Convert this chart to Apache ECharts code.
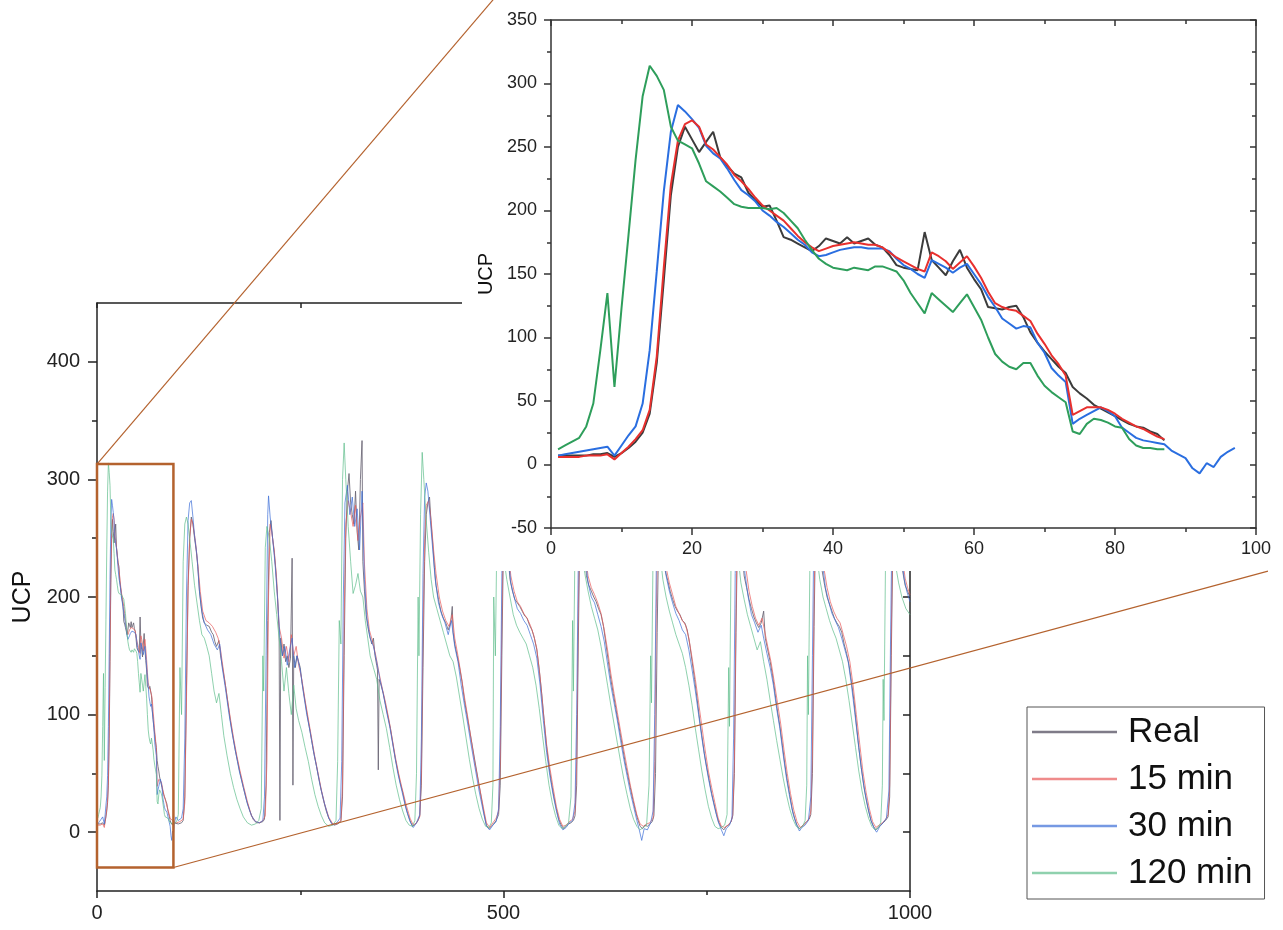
<!DOCTYPE html>
<html>
<head>
<meta charset="utf-8">
<title>UCP forecast</title>
<script src="https://cdn.jsdelivr.net/npm/echarts@6/dist/echarts.min.js"></script>
<style>
    html, body { margin: 0; padding: 0; background: #fff; }
    #chart { width: 1283px; height: 930px; }
</style>
</head>
<body>
<div id="chart"></div>
<script>
// series names
var names = ['Real', '15 min', '30 min', '120 min'];

// first cycle, one value per step (x = 1, 2, 3 ...) -- also the zoomed inset
var insetReal = [7,7,7,7,7,8,8,9,6,9, 13,18,25,40,80,145,212,250,266,256,
    246,254,262,242,235,229,226,214,208,203, 204,192,179,177,174,171,168,172,178,176,
    174,179,174,176,178,173,171,165,157,155, 154,153,183,161,155,149,160,169,155,146,
    138,124,123,122,124,125,116,104,96,89, 83,77,72,61,56,52,47,44,41,38,
    35,32,30,29,26,24,19];
var insetMin15 = [6,6,6,6,7,7,7,8,4,9, 14,20,27,43,85,155,220,255,268,271,
    266,252,248,242,236,228,223,217,210,204, 200,196,192,186,180,175,171,168,170,172,
    173,174,175,174,173,173,171,167,163,160, 157,154,152,167,164,160,154,159,164,156,
    147,136,127,124,122,121,117,113,103,95, 86,79,70,39,42,45,45,45,43,40,
    36,33,30,28,25,22,20];
var insetMin30 = [7,8,9,10,11,12,13,14,7,15, 23,30,48,90,152,215,262,283,278,272,
    265,251,245,241,233,224,216,212,207,200, 196,191,187,182,177,173,167,164,165,167,
    169,170,171,171,170,170,170,168,162,157, 154,150,147,161,158,155,151,155,158,150,
    142,132,124,115,111,107,109,108,96,88, 76,70,65,32,36,39,42,45,42,38,
    29,25,21,19,18,17,16,11,8,5, -3,-7,1,-2,6,10,13];
var insetMin120 = [12,15,18,21,30,48,90,135,61,123, 181,240,290,314,306,295,266,255,252,249,
    237,223,219,215,210,205,203,202,202,202, 201,202,198,192,186,177,169,162,158,155,
    154,153,155,154,153,156,156,154,152,145, 135,127,119,135,130,125,120,127,134,124,
    114,100,87,81,77,75,80,80,70,62, 57,53,49,26,24,32,36,35,33,30,
    29,20,15,13,13,12,12];

// rest of the full record, [x, UCP]
var realRest = [[88,16],[89,13],[90,10],[91,8],[92,7],[93,6],[94,8],[96,9],[100,7],[104,8],[106,10],[108,30],
    [110,120],[112,210],[114,250],[116,268],[118,262],[120,250],[122,240],[124,226],[126,205],[128,192],[130,182],
    [132,178],[135,176],[138,175],[141,170],[143,168],[145,162],[147,158],[150,163],[152,150],[155,138],[158,125],
    [161,110],[164,95],[167,82],[170,70],[173,60],[176,50],[180,38],[184,27],[188,18],[192,11],[196,8],[200,8],
    [204,9],[206,11],[208,40],[210,180],[212,255],[214,265],[216,250],[218,238],[220,222],[222,200],[224,170],
    [225,10],[226,165],[228,150],[230,160],[232,145],[234,150],[236,140],[238,148],[240,233],[241,40],[242,150],
    [244,140],[246,150],[248,145],[250,140],[252,128],[255,115],[258,102],[261,90],[264,78],[267,66],[270,56],
    [273,45],[276,35],[279,26],[282,18],[285,12],[288,8],[292,6],[296,7],[300,9],[302,30],[304,150],[306,250],
    [308,290],[310,305],[312,280],[314,270],[316,262],[318,290],[320,255],[322,240],[324,300],[326,333],[327,230],
    [329,205],[331,185],[333,175],[335,168],[338,160],[340,165],[342,150],[344,142],[345,138],[346,53],[347,130],
    [349,126],[352,118],[355,108],[358,98],[361,88],[364,75],[367,62],[370,52],[373,42],[376,34],[379,24],
    [382,16],[385,10],[388,5],[392,7],[395,10],[397,14],[399,40],[401,140],[403,230],[405,270],[407,280],
    [409,285],[411,262],[413,245],[415,225],[417,210],[420,198],[423,188],[426,182],[429,178],[432,172],
    [435,178],[437,192],[438,170],[440,160],[443,150],[446,140],[449,128],[452,112],[455,100],[458,88],
    [461,76],[464,64],[467,52],[470,40],[473,28],[476,16],[479,6],[482,3],[485,5],[488,7],[491,10],[494,15],
    [496,40],[498,150],[500,250],[502,275],[504,255],[506,232],[508,215],[511,205],[514,198],[517,195],
    [520,192],[523,188],[526,184],[529,182],[532,176],[535,172],[538,165],[541,155],[544,138],[547,118],
    [550,95],[553,73],[556,56],[559,42],[562,30],[565,20],[568,11],[571,6],[574,3],[577,5],[580,7],[583,8],
    [586,10],[588,14],[590,40],[592,160],[594,260],[596,285],[598,265],[600,235],[602,218],[605,210],[608,205],
    [611,200],[614,196],[617,190],[620,185],[623,175],[626,160],[629,145],[632,130],[635,118],[638,106],
    [641,94],[644,82],[647,70],[650,58],[653,48],[656,38],[659,28],[662,19],[665,11],[668,5],[671,3],[674,6],
    [677,5],[680,7],[683,9],[685,14],[687,50],[689,170],[691,260],[693,280],[695,262],[697,240],[699,222],
    [702,214],[705,205],[708,198],[711,192],[714,188],[717,185],[720,180],[723,178],[726,172],[729,160],
    [732,145],[735,130],[738,114],[741,97],[744,82],[747,67],[750,55],[753,44],[756,33],[759,24],[762,15],
    [765,8],[768,4],[771,2],[774,5],[777,6],[780,9],[782,14],[784,50],[786,170],[788,265],[790,282],[792,262],
    [794,235],[796,218],[799,208],[802,198],[805,190],[808,183],[811,178],[814,174],[817,178],[820,188],
    [822,165],[825,155],[828,145],[831,133],[834,118],[837,103],[840,90],[843,74],[846,58],[849,44],[852,32],
    [855,20],[858,12],[861,6],[864,3],[867,5],[870,7],[873,9],[876,11],[878,15],[880,50],[882,175],[884,265],
    [886,280],[888,260],[890,238],[892,222],[895,210],[898,200],[901,194],[904,188],[907,182],[910,178],
    [913,175],[916,170],[919,160],[922,152],[925,142],[928,128],[931,112],[934,92],[937,72],[940,55],[943,40],
    [946,28],[949,18],[952,10],[955,5],[958,2],[961,4],[964,6],[967,8],[970,10],[973,13],[975,30],[977,150],
    [979,250],[981,282],[983,275],[985,262],[987,248],[989,235],[991,222],[994,210],[997,205],[1000,200]];

var min15Rest = [[90,12],[94,9],[98,8],[102,9],[106,11],[108,25],[110,110],[112,205],[114,250],[116,266],
    [118,262],[121,248],[124,228],[127,205],[130,188],[134,180],[138,178],[142,175],[146,170],[149,165],
    [152,155],[156,135],[160,115],[164,97],[168,80],[172,65],[176,52],[180,40],[185,26],[190,14],[195,9],
    [200,8],[204,10],[207,14],[209,60],[211,200],[213,262],[215,255],[218,240],[221,215],[224,175],[227,165],
    [230,148],[233,158],[236,145],[239,168],[242,150],[245,158],[248,142],[252,130],[256,112],[260,96],
    [264,80],[268,64],[272,50],[276,36],[280,24],[285,13],[290,7],[295,7],[300,10],[302,40],[304,180],
    [306,262],[309,282],[312,272],[315,260],[318,278],[321,248],[324,268],[327,280],[329,228],[332,190],
    [335,172],[339,162],[343,150],[347,135],[351,122],[355,110],[359,96],[363,80],[367,64],[371,50],[375,38],
    [380,24],[385,12],[389,6],[393,8],[397,13],[399,50],[401,170],[403,250],[405,278],[408,282],[411,265],
    [414,240],[417,220],[421,200],[425,188],[429,180],[433,175],[437,185],[440,165],[444,150],[448,133],
    [452,115],[456,98],[460,80],[465,58],[470,40],[475,22],[479,8],[483,4],[487,8],[491,12],[494,18],
    [496,60],[498,180],[500,262],[503,268],[506,240],[509,218],[513,205],[517,196],[521,192],[525,186],
    [529,182],[533,176],[537,168],[541,156],[545,132],[549,102],[553,75],[557,55],[561,38],[565,22],[569,11],
    [573,5],[577,6],[581,9],[585,11],[588,18],[590,60],[592,190],[594,268],[597,272],[600,240],[604,218],
    [608,208],[612,202],[616,195],[620,186],[624,172],[628,155],[632,135],[636,118],[640,102],[644,86],
    [648,70],[652,55],[656,40],[660,27],[664,15],[668,7],[672,5],[676,7],[680,8],[684,12],[686,60],[688,190],
    [690,268],[693,276],[696,252],[700,225],[704,212],[708,202],[712,192],[716,186],[720,180],[724,176],
    [728,165],[732,148],[736,130],[740,110],[744,90],[748,70],[752,52],[756,38],[760,25],[764,12],[768,5],
    [772,4],[776,6],[780,9],[782,15],[784,60],[786,190],[788,270],[791,278],[794,252],[798,225],[802,205],
    [806,192],[810,182],[814,176],[818,182],[821,172],[825,158],[829,145],[833,128],[837,110],[841,92],
    [845,70],[849,50],[853,33],[857,19],[861,9],[865,4],[869,6],[873,9],[876,12],[878,18],[880,70],[882,200],
    [884,270],[887,278],[890,252],[894,225],[898,208],[902,196],[906,188],[910,182],[914,178],[918,168],
    [922,158],[926,145],[930,125],[934,100],[938,76],[942,52],[946,34],[950,20],[954,9],[958,4],[962,6],
    [966,8],[970,11],[973,15],[975,40],[977,170],[979,262],[982,280],[985,268],[988,250],[991,232],[994,216],
    [997,208],[1000,202]];

var min30Rest = [[100,10],[104,12],[106,20],[108,80],[110,200],[112,265],[114,280],[116,282],[118,268],
    [120,252],[123,235],[126,205],[129,188],[132,178],[136,172],[140,168],[144,160],[148,155],[151,160],
    [154,140],[158,122],[162,102],[166,85],[170,70],[175,52],[180,38],[185,24],[190,14],[195,9],[200,8],
    [204,10],[206,30],[208,150],[210,270],[211,286],[213,268],[216,250],[219,228],[222,200],[225,165],
    [228,150],[231,158],[234,142],[237,155],[240,165],[243,140],[246,150],[250,138],[254,118],[258,100],
    [262,86],[266,70],[270,56],[275,38],[280,24],[285,12],[290,6],[295,8],[299,12],[301,60],[303,200],
    [305,280],[308,295],[311,270],[314,285],[317,260],[320,275],[323,240],[326,290],[329,215],[332,182],
    [336,165],[340,158],[344,145],[348,130],[352,118],[356,103],[360,90],[365,70],[370,50],[375,35],[380,20],
    [385,9],[389,4],[393,8],[397,15],[399,80],[401,220],[403,285],[405,297],[407,290],[410,265],[413,240],
    [416,215],[420,195],[424,185],[428,178],[432,168],[436,180],[440,158],[444,145],[448,125],[452,108],
    [456,92],[460,75],[465,55],[470,35],[475,18],[479,5],[483,2],[487,6],[491,9],[494,20],[496,90],[498,220],
    [500,280],[503,270],[506,235],[509,212],[513,200],[517,190],[521,186],[525,180],[529,176],[533,168],
    [537,160],[541,148],[545,125],[549,95],[553,68],[557,48],[561,32],[565,18],[569,7],[573,2],[577,4],
    [581,8],[585,10],[588,25],[590,100],[592,230],[594,285],[597,270],[600,238],[604,212],[608,200],[612,195],
    [616,185],[620,175],[624,162],[628,143],[632,125],[636,110],[640,95],[644,78],[648,62],[652,48],[656,34],
    [660,22],[664,10],[667,2],[670,-7],[673,3],[677,2],[681,8],[684,18],[686,100],[688,230],[690,285],
    [693,270],[696,245],[700,218],[704,205],[708,195],[712,186],[716,180],[720,172],[724,168],[728,155],
    [732,138],[736,120],[740,100],[744,80],[748,62],[752,46],[756,32],[760,20],[764,9],[768,2],[771,-3],
    [774,3],[778,6],[781,12],[783,80],[785,220],[787,285],[790,275],[793,248],[797,220],[801,200],[805,185],
    [809,178],[813,170],[817,176],[820,165],[824,152],[828,140],[832,125],[836,105],[840,88],[844,66],
    [848,46],[852,30],[856,16],[860,7],[864,1],[867,4],[871,6],[875,10],[878,30],[880,150],[882,270],
    [885,290],[888,262],[892,230],[896,208],[900,196],[904,186],[908,180],[912,174],[916,165],[920,155],
    [924,145],[928,125],[932,102],[936,78],[940,55],[944,36],[948,22],[952,10],[956,3],[959,0],[963,5],
    [967,8],[971,12],[974,35],[976,160],[978,270],[981,292],[984,280],[987,255],[990,232],[993,215],
    [996,205],[1000,196]];

var min120Rest = [[90,8],[94,7],[98,9],[100,15],[102,140],[104,100],[106,230],[108,262],[110,268],[112,262],
    [114,250],[117,230],[120,210],[123,195],[126,180],[129,168],[132,165],[135,158],[138,150],[141,135],
    [144,120],[147,110],[150,118],[153,100],[156,82],[160,65],[164,50],[168,38],[172,28],[176,20],[180,13],
    [185,8],[190,6],[195,7],[199,10],[202,20],[204,150],[205,120],[207,242],[209,260],[212,250],[215,230],
    [218,205],[221,185],[224,165],[227,145],[230,120],[233,140],[236,118],[239,100],[242,125],[245,105],
    [248,95],[252,85],[256,72],[260,60],[264,45],[268,32],[272,22],[276,14],[280,8],[285,5],[290,6],[294,10],
    [296,60],[298,180],[300,160],[302,300],[304,331],[306,300],[309,260],[312,230],[315,203],[318,210],
    [321,220],[324,205],[327,200],[330,180],[333,165],[336,150],[340,140],[344,130],[348,112],[352,100],
    [356,88],[360,72],[364,55],[368,40],[372,28],[376,18],[380,10],[384,6],[388,5],[391,10],[393,50],
    [395,200],[396,150],[398,270],[400,323],[402,300],[405,265],[408,238],[411,215],[414,200],[418,190],
    [422,180],[426,170],[430,160],[434,150],[438,145],[442,132],[446,115],[450,98],[454,80],[458,62],
    [462,46],[466,32],[470,20],[474,11],[478,5],[482,4],[485,8],[487,40],[488,200],[490,150],[492,260],
    [494,285],[497,260],[500,235],[504,215],[508,200],[512,185],[516,176],[520,170],[524,165],[528,160],
    [532,150],[536,140],[540,125],[544,105],[548,82],[552,60],[556,40],[560,25],[564,14],[568,6],[572,3],
    [576,5],[580,8],[583,30],[585,180],[586,120],[588,250],[590,290],[593,265],[596,240],[600,220],[604,205],
    [608,192],[612,182],[616,172],[620,158],[624,142],[628,125],[632,108],[636,92],[640,76],[644,60],
    [648,45],[652,32],[656,20],[660,11],[664,5],[668,2],[672,4],[676,6],[679,40],[681,150],[682,110],
    [684,240],[686,280],[689,265],[692,240],[696,215],[700,200],[704,188],[708,178],[712,168],[716,160],
    [720,152],[724,140],[728,125],[732,108],[736,88],[740,70],[744,52],[748,36],[752,22],[756,12],[760,5],
    [764,3],[768,4],[772,6],[775,15],[777,140],[778,90],[780,240],[782,285],[785,265],[788,238],[792,212],
    [796,198],[800,185],[804,175],[808,165],[812,155],[816,162],[820,145],[824,130],[828,112],[832,95],
    [836,78],[840,62],[844,46],[848,32],[852,20],[856,11],[860,5],[864,3],[868,5],[871,10],[873,40],
    [874,150],[875,100],[877,240],[879,280],[882,262],[885,238],[889,215],[893,200],[897,190],[901,180],
    [905,172],[909,165],[913,155],[917,145],[921,130],[925,112],[929,92],[933,72],[937,52],[941,35],
    [945,22],[949,12],[953,5],[957,2],[961,4],[964,8],[966,40],[967,130],[968,95],[970,240],[972,285],
    [975,270],[978,250],[982,228],[986,212],[990,200],[995,190],[1000,185]];

// axis ticks / labels
var mainYLabels = [0, 100, 200, 300, 400];
var mainYMinor = [50, 150, 250, 350];
var mainYRight = [0, 50, 100, 150, 200, 250, 300, 350, 400];

// zoomed window drawn on the full record
var zoomBox = { x0: 0, x1: 94, y0: -30, y1: 313 };

// colours
var mainColors = ['rgba(105,100,115,0.85)', 'rgba(232,90,90,0.7)', 'rgba(60,110,215,0.7)', 'rgba(95,190,140,0.7)'];
var insetColors = ['#3c3c3c', '#e8302e', '#2a6ee0', '#2e9e5b'];
var linkColor = '#b4622e';
var font = 'Liberation Sans, Arial, sans-serif';

//把 1,2,3... 序号和数值组合成点
function toPairs(vals) {
    return vals.map(function (v, i) { return [i + 1, v]; });
}
// 刻度标签不要千分位
function plain(v) { return String(v); }

var insetVals = [insetReal, insetMin15, insetMin30, insetMin120];
var restVals = [realRest, min15Rest, min30Rest, min120Rest];

var axisLine = { show: true, onZero: false, lineStyle: { color: '#222', width: 1.5 } };
var tickStyle = { color: '#222', width: 1.5 };
var insetLine = { show: true, onZero: false, lineStyle: { color: '#333', width: 1.5 } };
var insetTick = { color: '#333', width: 1.5 };

var series = [];
// full record
for (var i = 0; i < names.length; i++) {
    series.push({
        name: names[i],
        type: 'line',
        xAxisIndex: 0,
        yAxisIndex: 0,
        symbol: 'none',
        showSymbol: false,
        z: 2,
        lineStyle: { width: 1, color: mainColors[i] },
        itemStyle: { color: mainColors[i] },
        data: toPairs(insetVals[i]).concat(restVals[i])
    });
}
// zoomed inset
var insetOrder = [0, 2, 1, 3];
for (var k = 0; k < insetOrder.length; k++) {
    var j = insetOrder[k];
    series.push({
        name: names[j],
        type: 'line',
        xAxisIndex: 2,
        yAxisIndex: 3,
        symbol: 'none',
        showSymbol: false,
        z: 10,
        lineStyle: { width: 2, color: insetColors[j] },
        itemStyle: { color: insetColors[j] },
        data: toPairs(insetVals[j])
    });
}

var option = {
    backgroundColor: '#fff',
    animation: false,
    textStyle: { fontFamily: font },
    grid: [
        { left: 97, top: 303, width: 813, height: 588, outerBoundsMode: 'none' },
        { left: 551, top: 20, width: 705, height: 508, outerBoundsMode: 'none' }
    ],
    legend: {
        data: names,
        orient: 'vertical',
        left: 1027,
        top: 707,
        padding: [7, 12, 8, 5],
        icon: 'rect',
        itemWidth: 85,
        itemHeight: 2.5,
        itemGap: 11,
        selectedMode: false,
        borderColor: '#555',
        borderWidth: 1,
        z: 12,
        textStyle: { fontSize: 35, lineHeight: 36, color: '#111', fontFamily: font, padding: [0, 0, 0, 6] }
    },
    xAxis: [
        {   // full record, bottom
            gridIndex: 0, type: 'value', min: 0, max: 1000, interval: 500, position: 'bottom',
            axisLine: axisLine,
            axisTick: { show: true, length: 7, lineStyle: tickStyle },
            minorTick: { show: true, splitNumber: 2, length: 4, lineStyle: tickStyle },
            axisLabel: { fontSize: 20, color: '#222', margin: 12, formatter: plain },
            splitLine: { show: false }
        },
        {   // full record, top
            gridIndex: 0, type: 'value', min: 0, max: 1000, interval: 500, position: 'top',
            axisLine: axisLine,
            axisTick: { show: true, inside: true, length: 5, lineStyle: tickStyle },
            minorTick: { show: true, splitNumber: 2, length: 5, lineStyle: tickStyle },
            axisLabel: { show: false },
            splitLine: { show: false }
        },
        {   // inset, bottom
            gridIndex: 1, type: 'value', min: 0, max: 100, interval: 20, position: 'bottom', z: 8,
            axisLine: insetLine,
            axisTick: { show: true, length: 7, lineStyle: insetTick },
            minorTick: { show: true, splitNumber: 2, length: 4, lineStyle: insetTick },
            axisLabel: { fontSize: 18, color: '#222', margin: 12 },
            splitLine: { show: false }
        },
        {   // inset, top
            gridIndex: 1, type: 'value', min: 0, max: 100, interval: 20, position: 'top', z: 8,
            axisLine: insetLine,
            axisTick: { show: true, inside: true, length: 6, lineStyle: insetTick },
            minorTick: { show: true, splitNumber: 2, length: 4, lineStyle: insetTick },
            axisLabel: { show: false },
            splitLine: { show: false }
        }
    ],
    yAxis: [
        {   // full record, left
            gridIndex: 0, type: 'value', min: -50, max: 450, position: 'left',
            name: 'UCP', nameLocation: 'middle', nameGap: 46,
            nameTextStyle: { fontSize: 25, color: '#111', fontFamily: font },
            axisLine: axisLine,
            axisTick: { show: true, length: 9, customValues: mainYLabels, lineStyle: tickStyle },
            axisLabel: { fontSize: 20, color: '#222', margin: 17, customValues: mainYLabels },
            splitLine: { show: false }
        },
        {   // full record, left minor ticks
            gridIndex: 0, type: 'value', min: -50, max: 450, position: 'left',
            axisLine: { show: false, onZero: false },
            axisTick: { show: true, length: 5, customValues: mainYMinor, lineStyle: tickStyle },
            axisLabel: { show: false },
            splitLine: { show: false }
        },
        {   // full record, right
            gridIndex: 0, type: 'value', min: -50, max: 450, position: 'right',
            axisLine: axisLine,
            axisTick: { show: true, inside: true, length: 7, customValues: mainYRight, lineStyle: tickStyle },
            axisLabel: { show: false },
            splitLine: { show: false }
        },
        {   // inset, left
            gridIndex: 1, type: 'value', min: -50, max: 350, interval: 50, position: 'left', z: 8,
            name: 'UCP', nameLocation: 'middle', nameGap: 52,
            nameTextStyle: { fontSize: 20, color: '#111', fontFamily: font },
            axisLine: insetLine,
            axisTick: { show: true, length: 7, lineStyle: insetTick },
            minorTick: { show: true, splitNumber: 2, length: 4, lineStyle: insetTick },
            axisLabel: { fontSize: 18, color: '#222', margin: 14 },
            splitLine: { show: false }
        },
        {   // inset, right
            gridIndex: 1, type: 'value', min: -50, max: 350, interval: 50, position: 'right', z: 8,
            axisLine: insetLine,
            axisTick: { show: true, inside: true, length: 6, lineStyle: insetTick },
            minorTick: { show: true, splitNumber: 2, length: 4, lineStyle: insetTick },
            axisLabel: { show: false },
            splitLine: { show: false }
        }
    ],
    series: series
};

var chart = echarts.init(document.getElementById('chart'));
chart.setOption(option);

// 放大框、连线、以及插图下面的白底
var boxTL = chart.convertToPixel({ gridIndex: 0 }, [zoomBox.x0, zoomBox.y1]);
var boxBR = chart.convertToPixel({ gridIndex: 0 }, [zoomBox.x1, zoomBox.y0]);
var linkTop = chart.convertToPixel({ gridIndex: 1 }, [-8.2, 366]);
var linkBottom = chart.convertToPixel({ gridIndex: 1 }, [101.7, -84]);
var insetTL = chart.convertToPixel({ gridIndex: 1 }, [0, 350]);
var insetBR = chart.convertToPixel({ gridIndex: 1 }, [100, -50]);
var coverLeft = insetTL[0] - 89;
var coverBottom = insetBR[1] + 43;

chart.setOption({
    graphic: {
        elements: [
            {
                type: 'rect', z: 5, silent: true,
                shape: { x: coverLeft, y: 0, width: 1283 - coverLeft, height: coverBottom },
                style: { fill: '#fff' }
            },
            {
                type: 'rect', z: 6, silent: true,
                shape: { x: boxTL[0], y: boxTL[1], width: boxBR[0] - boxTL[0], height: boxBR[1] - boxTL[1] },
                style: { fill: 'none', stroke: linkColor, lineWidth: 2.5 }
            },
            {
                type: 'line', z: 12, silent: true,
                shape: { x1: boxTL[0], y1: boxTL[1], x2: linkTop[0], y2: linkTop[1] },
                style: { stroke: linkColor, lineWidth: 1.2 }
            },
            {
                type: 'line', z: 12, silent: true,
                shape: { x1: boxBR[0], y1: boxBR[1], x2: linkBottom[0], y2: linkBottom[1] },
                style: { stroke: linkColor, lineWidth: 1.2 }
            }
        ]
    }
});
</script>
</body>
</html>
